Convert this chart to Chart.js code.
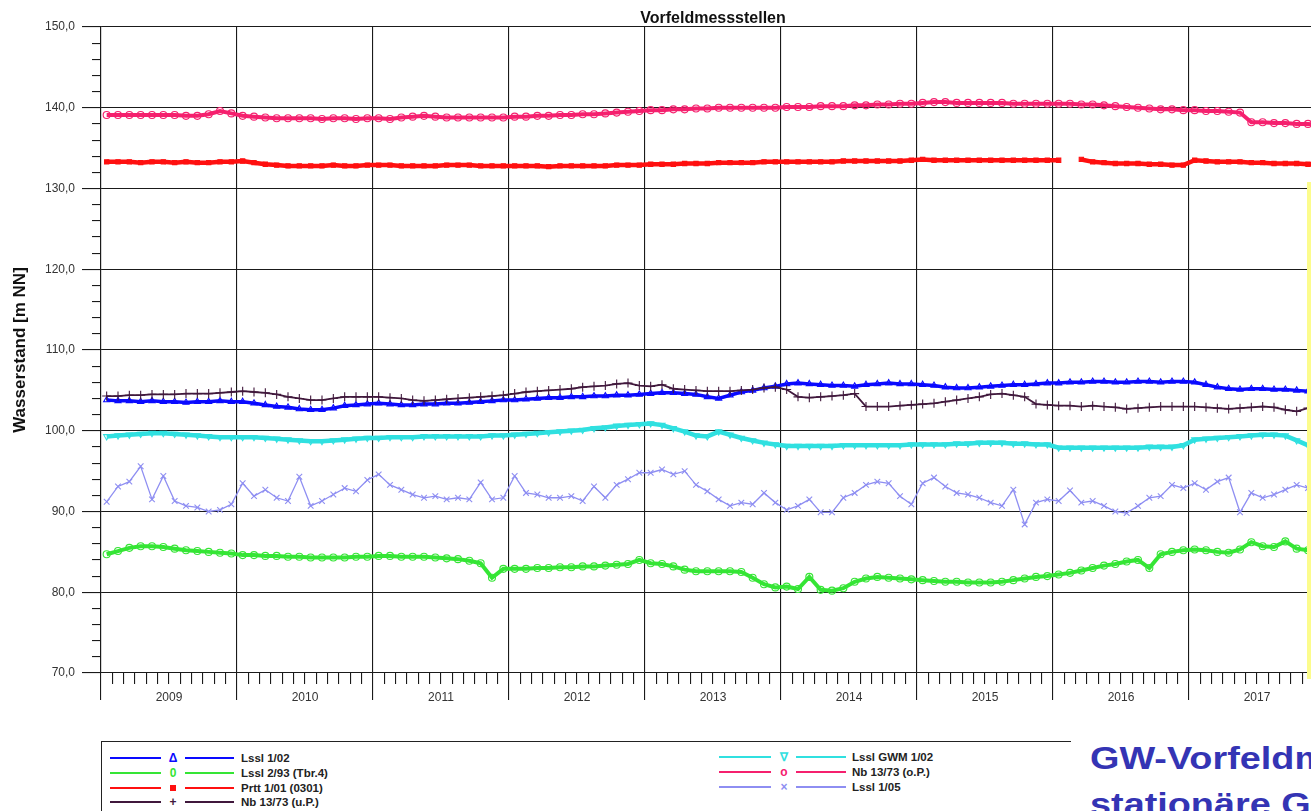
<!DOCTYPE html>
<html><head><meta charset="utf-8">
<script src="https://cdn.jsdelivr.net/npm/chart.js@4"></script>
<style>
html,body{margin:0;padding:0;background:#fff;overflow:hidden;width:1311px;height:811px;font-family:'Liberation Sans',Arial,sans-serif;}
#wrap{position:absolute;left:0;top:0;width:1311px;height:811px;overflow:hidden;background:#fff;}
#cbox{position:absolute;left:0;top:0;width:1330px;height:714px;}
#yellow{position:absolute;left:1307px;top:182px;width:4px;height:497px;background:#fcfc8c;}
#legend{position:absolute;left:101px;top:741px;width:969px;height:80px;border-top:1.5px solid #222;border-left:1.5px solid #222;}
.lg{position:absolute;height:14px;}
.ln{position:absolute;top:6px;height:2px;}
.gl{position:absolute;top:-1px;width:14px;text-align:center;font-size:12px;font-weight:bold;line-height:16px;}
.sq{position:absolute;top:4px;width:6px;height:6px;}
.tx{position:absolute;top:0;font-size:11.5px;font-weight:bold;color:#222;line-height:14px;white-space:nowrap;}
#note{position:absolute;left:1090px;top:736px;font-size:31px;font-weight:bold;color:#3434b4;line-height:46px;white-space:nowrap;transform:scaleX(1.22);transform-origin:0 0;}
</style></head>
<body>
<div id="wrap">
  <div id="cbox"><canvas id="cv"></canvas></div>
  <div id="yellow"></div>
  <div id="legend"></div>
  <div id="note">GW-Vorfeldmessstellen<br>stationäre Grundwassermessstellen</div>
</div>
<script>
// ---- data (monthly readings, Jan 2009 .. Dec 2017) ----
const startYear = 2009;
const yearLabels = ['2009','2010','2011','2012','2013','2014','2015','2016','2017'];

const lssl_1_02 = [
 103.8,103.7,103.7,103.6,103.7,103.6,103.6,103.5,103.6,103.6,103.7,103.6,
 103.6,103.4,103.2,103.0,102.9,102.7,102.6,102.6,102.8,103.1,103.2,103.3,
 103.4,103.3,103.2,103.2,103.3,103.3,103.4,103.4,103.5,103.6,103.7,103.8,
 103.8,103.9,104.0,104.1,104.1,104.2,104.2,104.3,104.3,104.4,104.4,104.5,
 104.6,104.7,104.7,104.6,104.5,104.2,104.0,104.4,104.8,105.0,105.3,105.5,
 105.8,105.9,105.8,105.7,105.6,105.6,105.5,105.7,105.8,105.9,105.8,105.8,
 105.7,105.6,105.4,105.3,105.3,105.4,105.5,105.6,105.7,105.7,105.8,105.9,
 105.9,106.0,106.0,106.1,106.1,106.0,106.0,106.1,106.1,106.0,106.1,106.1,
 106.0,105.7,105.4,105.2,105.1,105.2,105.2,105.1,105.1,105.0,104.9,104.9
];
const lssl_2_93 = [
 84.7,85.1,85.5,85.7,85.7,85.6,85.4,85.2,85.1,85.0,84.9,84.8,
 84.6,84.6,84.5,84.5,84.4,84.4,84.3,84.3,84.3,84.3,84.4,84.4,
 84.5,84.5,84.4,84.4,84.4,84.3,84.2,84.1,83.9,83.6,81.8,82.9,
 82.9,82.9,83.0,83.0,83.1,83.1,83.2,83.2,83.3,83.4,83.5,84.0,
 83.6,83.5,83.2,82.8,82.6,82.6,82.6,82.6,82.5,81.8,81.0,80.6,
 80.7,80.4,81.9,80.3,80.2,80.5,81.3,81.7,81.9,81.8,81.7,81.6,
 81.5,81.4,81.3,81.3,81.2,81.2,81.2,81.3,81.5,81.7,81.9,82.0,
 82.2,82.4,82.7,83.0,83.3,83.5,83.8,84.0,83.0,84.7,85.0,85.2,
 85.3,85.2,85.0,84.9,85.3,86.2,85.7,85.6,86.3,85.4,85.2,84.9
];
const prtt_1_01 = [
 133.3,133.3,133.3,133.2,133.3,133.3,133.2,133.3,133.2,133.2,133.3,133.3,
 133.4,133.2,133.0,132.9,132.8,132.8,132.8,132.8,132.9,132.8,132.8,132.9,
 132.9,132.9,132.8,132.8,132.8,132.8,132.9,132.9,132.9,132.8,132.8,132.8,
 132.8,132.8,132.8,132.7,132.8,132.8,132.8,132.8,132.8,132.9,132.9,132.9,
 133.0,133.0,133.0,133.1,133.1,133.1,133.2,133.2,133.2,133.2,133.3,133.3,
 133.3,133.3,133.3,133.3,133.3,133.4,133.4,133.4,133.4,133.4,133.4,133.5,
 133.6,133.5,133.5,133.5,133.5,133.5,133.5,133.5,133.5,133.5,133.5,133.5,
 133.5,null,133.6,133.3,133.2,133.1,133.1,133.1,133.0,133.0,132.9,132.9,
 133.5,133.4,133.3,133.3,133.3,133.2,133.2,133.1,133.1,133.1,133.0,133.0
];
const nb_13_73_up = [
 104.3,104.3,104.4,104.4,104.5,104.5,104.5,104.6,104.6,104.6,104.7,104.8,
 104.9,104.8,104.7,104.5,104.2,104.0,103.8,103.8,104.0,104.2,104.2,104.2,
 104.2,104.1,104.0,103.8,103.7,103.8,103.9,104.0,104.1,104.2,104.3,104.4,
 104.6,104.8,104.9,105.0,105.1,105.2,105.4,105.5,105.6,105.8,105.9,105.6,
 105.5,105.7,105.2,105.1,105.0,104.9,104.9,104.9,105.0,105.1,105.3,105.4,
 105.1,104.2,104.1,104.2,104.3,104.4,104.6,103.0,103.0,103.0,103.1,103.2,
 103.3,103.4,103.6,103.8,104.0,104.2,104.5,104.6,104.4,104.2,103.3,103.2,
 103.1,103.1,103.0,103.1,103.0,102.9,102.7,102.8,102.9,103.0,103.0,103.0,
 103.0,102.9,102.8,102.7,102.8,102.9,103.0,102.9,102.6,102.4,102.8,103.0
];
const lssl_gwm_1_02 = [
 99.3,99.4,99.5,99.6,99.7,99.7,99.6,99.5,99.4,99.3,99.2,99.2,
 99.2,99.2,99.1,99.0,98.9,98.8,98.7,98.7,98.8,98.9,99.0,99.1,
 99.1,99.2,99.2,99.2,99.3,99.3,99.3,99.3,99.3,99.3,99.4,99.4,
 99.5,99.6,99.7,99.8,99.9,100.0,100.1,100.3,100.4,100.6,100.7,100.8,
 100.9,100.7,100.3,99.9,99.4,99.3,99.9,99.5,99.1,98.8,98.5,98.3,
 98.1,98.1,98.1,98.1,98.1,98.2,98.2,98.2,98.2,98.2,98.2,98.3,
 98.3,98.3,98.3,98.4,98.4,98.5,98.5,98.5,98.4,98.4,98.3,98.3,
 97.9,97.9,97.9,97.9,97.9,97.9,97.9,97.9,98.0,98.0,98.0,98.2,
 98.9,99.0,99.1,99.2,99.3,99.4,99.5,99.5,99.4,98.8,98.2,97.8
];
const nb_13_73_op = [
 139.1,139.1,139.1,139.1,139.1,139.1,139.1,139.0,139.0,139.2,139.6,139.3,
 139.0,138.9,138.8,138.7,138.7,138.7,138.7,138.6,138.7,138.7,138.6,138.7,
 138.7,138.6,138.8,138.9,139.0,138.9,138.8,138.8,138.8,138.8,138.8,138.8,
 138.9,138.9,139.0,139.0,139.1,139.1,139.2,139.2,139.3,139.4,139.5,139.6,
 139.7,139.7,139.8,139.8,139.9,139.9,140.0,140.0,140.0,140.0,140.0,140.0,
 140.1,140.1,140.1,140.2,140.2,140.2,140.3,140.3,140.4,140.4,140.5,140.5,
 140.6,140.7,140.7,140.6,140.6,140.6,140.6,140.6,140.5,140.5,140.5,140.5,
 140.5,140.5,140.4,140.4,140.3,140.2,140.1,140.0,139.9,139.8,139.8,139.7,
 139.7,139.6,139.6,139.5,139.4,138.2,138.2,138.1,138.1,138.0,138.0,137.9
];
const lssl_1_05 = [
 91.2,93.1,93.7,95.6,91.5,94.4,91.3,90.7,90.5,90.0,90.2,90.9,
 93.5,91.9,92.7,91.7,91.3,94.3,90.7,91.3,92.1,92.9,92.5,93.9,
 94.6,93.3,92.7,92.1,91.7,91.9,91.5,91.7,91.5,93.6,91.5,91.7,
 94.4,92.3,92.1,91.7,91.7,91.9,91.3,93.1,91.7,93.3,94.0,94.8,
 94.8,95.2,94.6,95.0,93.3,92.5,91.5,90.7,91.1,90.9,92.3,91.1,
 90.2,90.7,91.5,89.9,89.9,91.7,92.3,93.3,93.7,93.5,91.9,90.9,
 93.5,94.2,93.1,92.3,92.1,91.7,91.1,90.7,92.7,88.4,91.1,91.5,
 91.3,92.6,91.1,91.3,90.7,90.0,89.8,90.7,91.7,91.9,93.3,92.9,
 93.5,92.7,93.7,94.2,89.9,92.3,91.7,92.1,92.7,93.3,92.9,92.9
];

// month positions (mid-month, decimal years)
const monthX = lssl_1_02.map((_, i) => startYear + (i + 0.5) / 12);

// ---- styles ----
const series = [
  {label:'Lssl 1/02',        data:lssl_1_02,     color:'#0a0aff', ps:'triangle', rot:0,   r:3.5, bw:3.5, glyph:'Δ', order:3},
  {label:'Lssl 2/93 (Tbr.4)',data:lssl_2_93,     color:'#35e535', ps:'circle',   rot:0,   r:3.5, bw:4,   glyph:'0', order:5},
  {label:'Prtt 1/01 (0301)', data:prtt_1_01,     color:'#ff1010', ps:'rect',     rot:0,   r:3,   bw:4.5, glyph:'sq', order:5},
  {label:'Nb 13/73 (u.P.)',  data:nb_13_73_up,   color:'#40183c', ps:'cross',    rot:0,   r:4.5, bw:1.8, glyph:'+', order:2},
  {label:'Lssl GWM 1/02',    data:lssl_gwm_1_02, color:'#30e0e0', ps:'triangle', rot:180, r:3.5, bw:4.5, glyph:'∇', order:5},
  {label:'Nb 13/73 (o.P.)',  data:nb_13_73_op,   color:'#f5206e', ps:'circle',   rot:0,   r:3.5, bw:4,   glyph:'o', order:5},
  {label:'Lssl 1/05',        data:lssl_1_05,     color:'#8e8ef2', ps:'crossRot', rot:0,   r:4,   bw:1.3, glyph:'×', order:4}
];

const isYear = v => Math.abs(v - Math.round(v)) < 1e-6;
const FONT = "'Liberation Sans', Arial, sans-serif";
const TICKC = '#1a1a1a';

const datasets = series.map(s => ({
  label: s.label,
  data: monthX.map((x, i) => ({x, y: s.data[i]})),
  borderColor: s.color,
  backgroundColor: s.color,
  borderWidth: s.bw,
  pointStyle: s.ps,
  pointRotation: s.rot,
  pointRadius: s.r,
  pointBorderWidth: 1.1,
  pointBackgroundColor: s.ps === 'rect' ? s.color : 'rgba(255,255,255,0)',
  pointBorderColor: s.color,
  tension: 0,
  spanGaps: false,
  order: s.order
}));

new Chart(document.getElementById('cv'), {
  type: 'line',
  data: { datasets },
  options: {
    responsive: true,
    maintainAspectRatio: false,
    animation: false,
    layout: { padding: { left: 0, right: 5, top: 0, bottom: 0 }, autoPadding: false },
    plugins: { legend: { display: false }, tooltip: { enabled: false }, title: { display: false } },
    scales: {
      xt: {
        type: 'linear', position: 'top', min: 2009, max: 2018,
        grid: { display: false }, border: { display: false },
        ticks: { display: false },
        title: { display: true, text: 'Vorfeldmessstellen', color: '#111',
                 font: { family: FONT, size: 16, weight: 'bold' }, padding: { top: 9, bottom: 0 } },
        afterFit: s => { s.height = 27; }
      },
      x: {
        type: 'linear', position: 'bottom', min: 2009, max: 2018, weight: 0,
        afterBuildTicks: s => { const t = []; for (let i = 0; i <= 108; i++) t.push({value: 2009 + i / 12}); s.ticks = t; },
        grid: {
          color: c => (c.tick && isYear(c.tick.value)) ? TICKC : 'rgba(0,0,0,0)',
          tickColor: TICKC, tickLength: 11, lineWidth: 1.1
        },
        border: { display: true, color: TICKC, width: 1.1 },
        ticks: { display: false, autoSkip: false },
        afterFit: s => { s.height = 11; }
      },
      xb: {
        type: 'linear', position: 'bottom', min: 2009, max: 2018, weight: 1,
        afterBuildTicks: s => {
          const t = [];
          for (let y = 2009; y <= 2018; y++) t.push({value: y});
          yearLabels.forEach((l, i) => t.push({value: startYear + i + 0.5}));
          t.sort((a, b) => a.value - b.value);
          s.ticks = t;
        },
        grid: {
          drawOnChartArea: false, tickLength: 16, lineWidth: 1.1,
          tickColor: c => (c.tick && isYear(c.tick.value)) ? TICKC : 'rgba(0,0,0,0)'
        },
        border: { display: false },
        ticks: {
          autoSkip: false, maxRotation: 0, padding: -10, color: '#333',
          font: { family: FONT, size: 12 },
          callback: v => isYear(v) ? '' : yearLabels[Math.floor(v) - startYear]
        },
        afterFit: s => { s.height = 30; }
      },
      y: {
        type: 'linear', position: 'left', min: 70, max: 150, weight: 0,
        ticks: { display: false, stepSize: 2 },
        grid: {
          color: c => (c.tick && c.tick.value % 10 === 0) ? TICKC : 'rgba(0,0,0,0)',
          tickColor: TICKC, tickLength: 9, lineWidth: 1.1
        },
        border: { display: true, color: TICKC, width: 1.1 },
        afterFit: s => { s.width = 9; }
      },
      y2: {
        type: 'linear', position: 'left', min: 70, max: 150, weight: 1,
        ticks: { stepSize: 10, padding: 7, color: '#333', font: { family: FONT, size: 12 },
                 callback: v => v.toFixed(1).replace('.', ',') },
        grid: { drawOnChartArea: false, tickColor: TICKC, tickLength: 10, lineWidth: 1.1 },
        border: { display: false },
        title: { display: true, text: 'Wasserstand [m NN]', color: '#111',
                 font: { family: FONT, size: 17, weight: 'bold' }, padding: { top: 10, bottom: 0 } },
        afterFit: s => { s.width = 92; }
      }
    }
  }
});

// ---- legend (HTML) ----
const lg = document.getElementById('legend');
const cols = [
  {items: [series[0], series[1], series[2], series[3]], l1: 109, l1w: 51, g: 165, l2: 184, l2w: 49, t: 240, y0: 750},
  {items: [series[4], series[5], series[6]], l1: 718, l1w: 52, g: 776, l2: 795, l2w: 50, t: 851, y0: 749}
];
cols.forEach(col => {
  col.items.forEach((s, k) => {
    const top = col.y0 + k * 14.8 - 741;
    const row = document.createElement('div');
    row.className = 'lg';
    row.style.top = top + 'px';
    row.style.left = '0px';
    const off = 101;
    const mark = s.glyph === 'sq'
      ? `<div class="sq" style="left:${col.g - off + 4}px;background:${s.color}"></div>`
      : `<div class="gl" style="left:${col.g - off}px;color:${s.color}">${s.glyph}</div>`;
    row.innerHTML =
      `<div class="ln" style="left:${col.l1 - off}px;width:${col.l1w}px;background:${s.color}"></div>` +
      mark +
      `<div class="ln" style="left:${col.l2 - off}px;width:${col.l2w}px;background:${s.color}"></div>` +
      `<div class="tx" style="left:${col.t - off}px">${s.label}</div>`;
    lg.appendChild(row);
  });
});
</script>
</body></html>
